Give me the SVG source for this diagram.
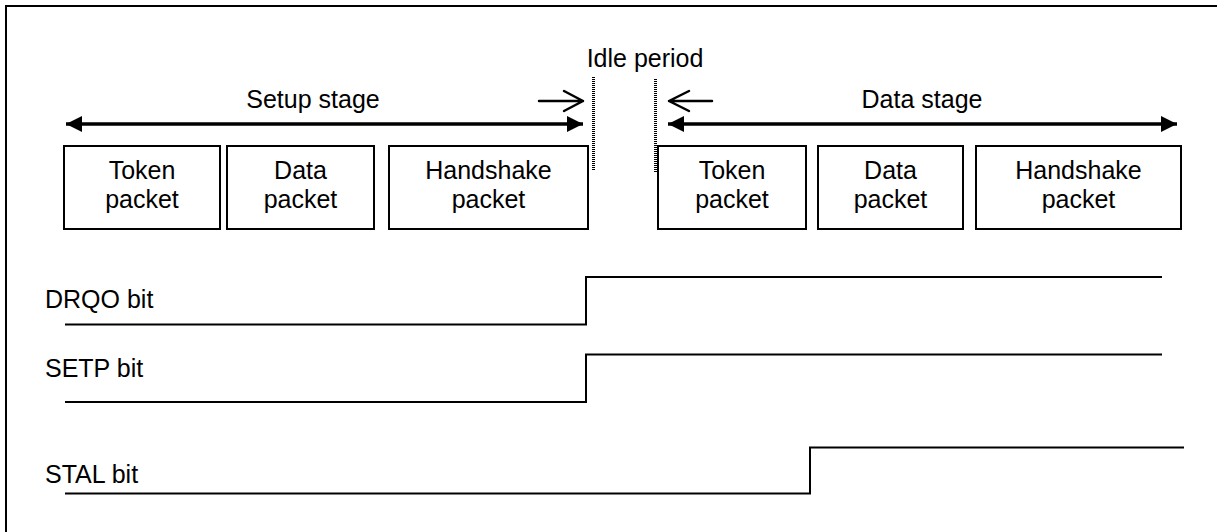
<svg xmlns="http://www.w3.org/2000/svg" width="1217" height="532" viewBox="0 0 1217 532">
<style>
text{font-family:"Liberation Sans",Arial,sans-serif;font-size:25px;fill:#000}
.c{text-anchor:middle}
.box{fill:#fff;stroke:#000;stroke-width:2}
.sig{fill:none;stroke:#000;stroke-width:2}
.dot{stroke:#000;stroke-width:3;stroke-dasharray:1 1;fill:none}
.ptr{fill:none;stroke:#000;stroke-width:2.5;stroke-linecap:round;stroke-linejoin:round}
</style>
<defs>
<marker id="ah" viewBox="0 0 16 16" refX="16" refY="8" markerWidth="16" markerHeight="16" markerUnits="userSpaceOnUse" orient="auto-start-reverse">
<path d="M0,0 L16,8 L0,16 Z" fill="#000"/>
</marker>
</defs>
<rect x="0" y="0" width="1217" height="532" fill="#fff"/>
<rect x="6" y="6" width="1240" height="560" fill="none" stroke="#000" stroke-width="2"/>

<g id="connectors">
<line x1="66" y1="124" x2="583" y2="124" stroke="#000" stroke-width="3.5" marker-start="url(#ah)" marker-end="url(#ah)"/>
<line x1="668" y1="124" x2="1177" y2="124" stroke="#000" stroke-width="3.5" marker-start="url(#ah)" marker-end="url(#ah)"/>
<path class="ptr" d="M539,101 L583,101 M564,91 L583,101 L564,111"/>
<path class="ptr" d="M712,101 L669,101 M689,91 L669,101 L689,111"/>
<line class="dot" x1="593.5" y1="77" x2="593.5" y2="171"/>
<line class="dot" x1="655.5" y1="79" x2="655.5" y2="173"/>
</g>

<g id="labels">
<text class="c" x="313" y="108">Setup stage</text>
<text class="c" x="922" y="108">Data stage</text>
<text class="c" x="645" y="67">Idle period</text>
</g>

<g id="setup-token"><rect class="box" x="64" y="146" width="156" height="83"/><text class="c" x="142" y="179">Token</text><text class="c" x="142" y="208">packet</text></g>
<g id="setup-data"><rect class="box" x="227" y="146" width="147" height="83"/><text class="c" x="300.5" y="179">Data</text><text class="c" x="300.5" y="208">packet</text></g>
<g id="setup-handshake"><rect class="box" x="389" y="146" width="199" height="83"/><text class="c" x="488.5" y="179">Handshake</text><text class="c" x="488.5" y="208">packet</text></g>

<g id="data-token"><rect class="box" x="658" y="146" width="148" height="83"/><text class="c" x="732" y="179">Token</text><text class="c" x="732" y="208">packet</text></g>
<g id="data-data"><rect class="box" x="818" y="146" width="145" height="83"/><text class="c" x="890.5" y="179">Data</text><text class="c" x="890.5" y="208">packet</text></g>
<g id="data-handshake"><rect class="box" x="976" y="146" width="205" height="83"/><text class="c" x="1078.5" y="179">Handshake</text><text class="c" x="1078.5" y="208">packet</text></g>

<g id="drqo"><text x="45" y="308">DRQO bit</text><polyline class="sig" points="65,324.5 586,324.5 586,277 1162,277"/></g>
<g id="setp"><text x="45" y="377">SETP bit</text><polyline class="sig" points="65,402 586,402 586,354.5 1162,354.5"/></g>
<g id="stal"><text x="45" y="483">STAL bit</text><polyline class="sig" points="65,493.5 810,493.5 810,447.5 1184,447.5"/></g>
</svg>
